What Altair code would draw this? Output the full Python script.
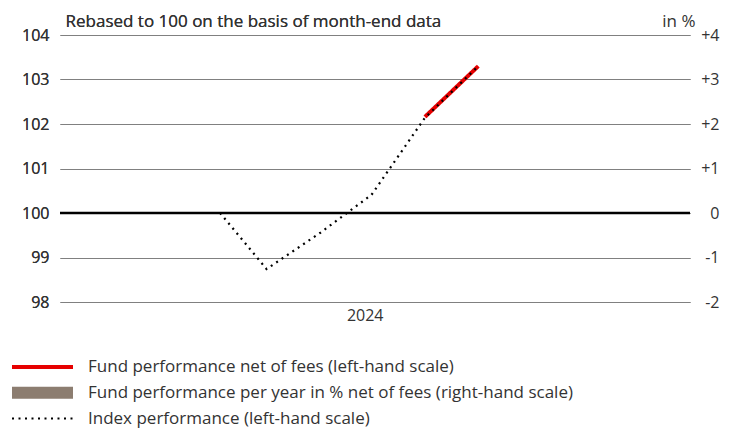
import altair as alt
import pandas as pd

# ---- data ----
index_dates = ["2024-04-03", "2024-04-30", "2024-05-31", "2024-06-30", "2024-07-31", "2024-08-31"]
index_values = [100.0, 98.74, 99.55, 100.41, 102.14, 103.30]
fund_dates = ["2024-07-31", "2024-08-31"]
fund_values = [102.16, 103.30]

series_names = [
    "Fund performance net of fees (left-hand scale)",
    "Fund performance per year in % net of fees (right-hand scale)",
    "Index performance (left-hand scale)",
]
series_colors = ["#e60000", "#8c7d70", "#000000"]
series_widths = [4, 12, 2.2]
series_dashes = [[1, 0], [1, 0], [2, 4.5]]

left_ticks = [98, 99, 100, 101, 102, 103, 104]
right_ticks = [-2, -1, 0, 1, 2, 3, 4]
zero_line = [0]

FONT = "Open Sans"
TXT = "#333333"
TICK_FS = 16
TEXT_FS = 17

fund_df = pd.DataFrame({"date": fund_dates, "value": fund_values, "series": series_names[0]})
index_df = pd.DataFrame({"date": index_dates, "value": index_values, "series": series_names[2]})
zero_df = pd.DataFrame({"pct": zero_line})

x_enc = alt.X(
    "date:T",
    scale=alt.Scale(
        type="utc",
        domain=[alt.DateTime(year=2024, month=1, date=1, utc=True),
                alt.DateTime(year=2025, month=1, date=1, utc=True)],
    ),
    axis=alt.Axis(
        values=[alt.DateTime(year=2024, month=6, date=26, utc=True)],
        format="%Y", title=None, grid=False, domain=False, ticks=False,
        labelPadding=5, labelFontSize=TICK_FS, labelFont=FONT, labelColor=TXT,
    ),
)

y_enc = alt.Y(
    "value:Q",
    scale=alt.Scale(domain=[98, 104], nice=False, zero=False),
    axis=alt.Axis(
        values=left_ticks, grid=True, gridColor="#808080", gridWidth=1.2,
        domain=False, ticks=False, labelPadding=11, labelFontSize=TICK_FS,
        labelFont=FONT, labelColor=TXT,
        title="Rebased to 100 on the basis of month-end data",
        titleAngle=0, titleAlign="left", titleBaseline="alphabetic",
        titleX=5, titleY=-9, titleFont=FONT, titleFontSize=TEXT_FS,
        titleFontWeight="normal", titleColor=TXT,
    ),
)

leg = alt.Legend(
    title=None, orient="none", legendX=-54, legendY=324, direction="vertical",
    symbolType="stroke", symbolSize=3721, clipHeight=16, rowPadding=8.75,
    labelOffset=9, labelFontSize=TEXT_FS, labelFont=FONT, labelColor=TXT,
    labelLimit=0, padding=0, symbolOffset=0,
)

color_enc = alt.Color("series:N", scale=alt.Scale(domain=series_names, range=series_colors), legend=leg)
dash_enc = alt.StrokeDash("series:N", scale=alt.Scale(domain=series_names, range=series_dashes), legend=leg)
width_enc = alt.StrokeWidth("series:N", scale=alt.Scale(type="ordinal", domain=series_names, range=series_widths), legend=leg)

zero_rule = alt.Chart(zero_df).mark_rule(color="#000000", strokeWidth=2.6).encode(
    y=alt.Y(
        "pct:Q",
        scale=alt.Scale(domain=[-2, 4], nice=False, zero=False),
        axis=alt.Axis(
            orient="right", values=right_ticks, grid=False, domain=False, ticks=False,
            labelExpr="datum.value > 0 ? '+' + datum.value : '' + datum.value",
            labelAlign="right", labelPadding=29, labelFontSize=TICK_FS,
            labelFont=FONT, labelColor=TXT,
            title="in %", titleAngle=0, titleAlign="right", titleBaseline="alphabetic",
            titleX=5, titleY=-9, titleFont=FONT, titleFontSize=TEXT_FS,
            titleFontWeight="normal", titleColor=TXT,
        ),
    ),
)

fund_line = alt.Chart(fund_df).mark_line(strokeCap="butt").encode(
    x=x_enc, y=y_enc, color=color_enc, strokeDash=dash_enc, strokeWidth=width_enc,
)
index_line = alt.Chart(index_df).mark_line(strokeCap="butt").encode(
    x=x_enc, y=y_enc, color=color_enc, strokeDash=dash_enc, strokeWidth=width_enc,
)

chart = (
    alt.layer(zero_rule, fund_line, index_line)
    .resolve_scale(y="independent")
    .properties(
        width=630, height=267, autosize="none",
        padding={"left": 52, "top": 27, "right": 34, "bottom": 127},
    )
    .configure(font=FONT)
    .configure_view(stroke=None)
)

chart.save("out.html", embed_options={"renderer": "svg", "actions": False})
